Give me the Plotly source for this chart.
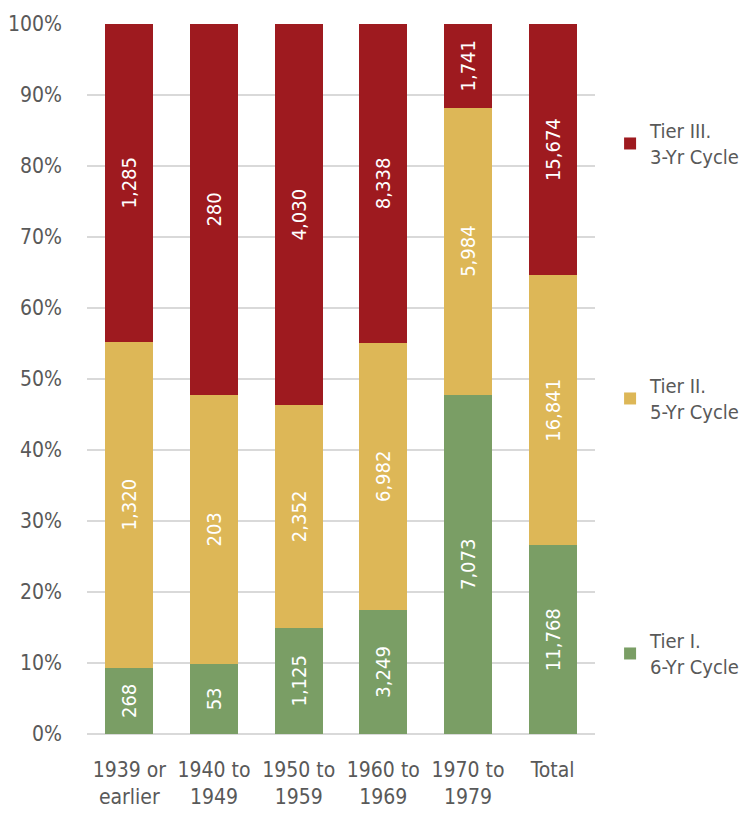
import plotly.graph_objects as go

categories = ["1939 or<br>earlier", "1940 to<br>1949", "1950 to<br>1959", "1960 to<br>1969", "1970 to<br>1979", "Total"]
tier1 = [268, 53, 1125, 3249, 7073, 11768]
tier2 = [1320, 203, 2352, 6982, 5984, 16841]
tier3 = [1285, 280, 4030, 8338, 1741, 15674]
series_names = ["Tier I.<br>6-Yr Cycle", "Tier II.<br>5-Yr Cycle", "Tier III.<br>3-Yr Cycle"]
colors = ["#7A9E65", "#DDB757", "#9E1A1F"]

FONT = "DejaVu Sans Condensed, Liberation Sans Narrow, sans-serif"
GRAY = "#595959"

fig = go.Figure()
for i, (vals, name, col) in enumerate(zip([tier1, tier2, tier3], series_names, colors)):
    fig.add_trace(go.Bar(
        x=categories, y=vals, name=name,
        marker=dict(color=col, line=dict(width=0)),
        text=[f"{v:,}" for v in vals],
        texttemplate="%{text}",
        textposition="inside",
        insidetextanchor="middle",
        textangle=-90,
        insidetextfont=dict(color="white", size=20, family=FONT),
        legendgroup=f"g{i}",
        legendrank=3 - i,
        hoverinfo="skip",
    ))

fig.update_layout(
    barmode="stack",
    barnorm="percent",
    bargap=0.43,
    width=744, height=816,
    margin=dict(l=87, r=149, t=24, b=82),
    plot_bgcolor="white", paper_bgcolor="white",
    font=dict(family=FONT, color=GRAY, size=21),
    uniformtext=dict(minsize=8, mode="show"),
    legend=dict(
        xref="container", yref="container",
        x=0.82, y=0.864, xanchor="left", yanchor="top",
        traceorder="grouped",
        tracegroupgap=200,
        font=dict(size=20, color=GRAY, family=FONT),
        itemwidth=30,
        maxheight=1,
    ),
    xaxis=dict(
        tickfont=dict(size=21, color=GRAY),
        showline=False, ticks="", tickangle=0, ticklabelstandoff=21,
        automargin=False,
    ),
    yaxis=dict(
        range=[0, 100], dtick=10, ticksuffix="%",
        showgrid=True, gridcolor="#D9D9D9", gridwidth=1.5,
        zeroline=True, zerolinecolor="#D9D9D9", zerolinewidth=1.5,
        tickfont=dict(size=21, color=GRAY),
        ticks="", ticklabelstandoff=24,
        automargin=False,
    ),
)

fig.write_html("out.html")
